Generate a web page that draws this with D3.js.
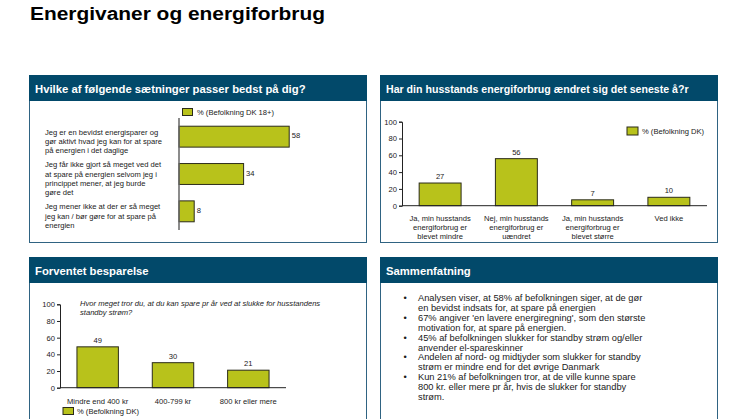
<!DOCTYPE html>
<html><head><meta charset="utf-8">
<script src="https://cdn.jsdelivr.net/npm/d3@7"></script>
<style>
html,body{margin:0;padding:0;background:#fff;}
svg{display:block;font-family:"Liberation Sans",Arial,sans-serif;}
</style></head>
<body>
<script>
// ---------- DATA ----------
const pageTitle = "Energivaner og energiforbrug";

const p1Title = "Hvilke af følgende sætninger passer bedst på dig?";
const p1Categories = [
  ["Jeg er en bevidst energisparer og", "gør aktivt hvad jeg kan for at spare", "på energien i det daglige"],
  ["Jeg får ikke gjort så meget ved det", "at spare på energien selvom jeg i", "princippet mener, at jeg burde", "gøre det"],
  ["Jeg mener ikke at der er så meget", "jeg kan / bør gøre for at spare på", "energien"]
];
const p1Values = [58, 34, 8];
const p1Legend = "% (Befolkning DK 18+)";

const p2Title = "Har din husstands energiforbrug ændret sig det seneste å?r";
const p2Categories = [
  ["Ja, min husstands", "energiforbrug er", "blevet mindre"],
  ["Nej, min husstands", "energiforbrug er", "uændret"],
  ["Ja, min husstands", "energiforbrug er", "blevet større"],
  ["Ved ikke"]
];
const p2Values = [27, 56, 7, 10];
const p2Legend = "% (Befolkning DK)";
const yTicks = [0, 20, 40, 60, 80, 100];

const p3Title = "Forventet besparelse";
const p3Question = ["Hvor meget tror du, at du kan spare pr år ved at slukke for husstandens", "standby strøm?"];
const p3Categories = ["Mindre end 400 kr", "400-799 kr", "800 kr eller mere"];
const p3Values = [49, 30, 21];
const p3Legend = "% (Befolkning DK)";

const p4Title = "Sammenfatning";
const p4Bullets = [
  ["Analysen viser, at 58% af befolkningen siger, at de gør", "en bevidst indsats for, at spare på energien"],
  ["67% angiver 'en lavere energiregning', som den største", "motivation for, at spare på energien."],
  ["45% af befolkningen slukker for standby strøm og/eller", "anvender el-spareskinner"],
  ["Andelen af nord- og midtjyder som slukker for standby", "strøm er mindre end for det øvrige Danmark"],
  ["Kun 21% af befolkningen tror, at de ville kunne spare", "800 kr. eller mere pr år, hvis de slukker for standby", "strøm."]
];

// ---------- STYLE ----------
const HEAD = "#02496a";
const BORDER = "#2f6382";
const BAR = "#b8c21b";
const BARSTROKE = "#2b2b1a";
const TXT = "#1a1a1a";
const FS = 7.6;

const W = 746, H = 419;
const svg = d3.select("body").append("svg").attr("width", W).attr("height", H);

svg.append("text").attr("x", 30).attr("y", 20)
  .attr("font-size", 18).attr("font-weight", "bold").attr("fill", "#000")
  .attr("textLength", 295).attr("lengthAdjust", "spacingAndGlyphs")
  .text(pageTitle);

function panel(x, y, w, h, title, fs) {
  const g = svg.append("g");
  g.append("rect").attr("x", x + 0.5).attr("y", y + 0.5).attr("width", w).attr("height", h)
    .attr("fill", "#fff").attr("stroke", BORDER).attr("stroke-width", 1);
  g.append("rect").attr("x", x).attr("y", y).attr("width", w + 1).attr("height", 26).attr("fill", HEAD);
  g.append("text").attr("x", x + 6).attr("y", y + 18)
    .attr("font-size", fs).attr("font-weight", "bold").attr("fill", "#fff").text(title);
  return g;
}

// ---------- PANEL 1 ----------
{
  const g = panel(29, 75, 337, 167, p1Title, 11.3);
  const y = d3.scaleBand().domain(d3.range(p1Values.length)).range([118, 230])
    .paddingInner(0.44).paddingOuter(0.22);
  const x = d3.scaleLinear().domain([0, 100]).range([179, 369]);
  g.selectAll("rect.bar").data(p1Values).join("rect").attr("class", "bar")
    .attr("x", x(0)).attr("y", (d, i) => y(i))
    .attr("width", d => x(d) - x(0)).attr("height", y.bandwidth())
    .attr("fill", BAR).attr("stroke", BARSTROKE).attr("stroke-width", 1);
  g.append("line").attr("x1", x(0)).attr("x2", x(0)).attr("y1", 118).attr("y2", 230)
    .attr("stroke", "#666").attr("stroke-width", 1.5);
  g.selectAll("text.val").data(p1Values).join("text").attr("class", "val")
    .attr("x", d => x(d) + 2.5).attr("y", (d, i) => y(i) + y.bandwidth() / 2 + 1.5)
    .attr("font-size", FS).attr("fill", TXT).text(d => d);
  p1Categories.forEach((lines, i) => {
    const c = y(i) + y.bandwidth() / 2 + 4.7;
    const lh = 9.3;
    const t = g.append("text").attr("font-size", FS).attr("fill", TXT);
    lines.forEach((l, j) => {
      t.append("tspan").attr("x", 45).attr("y", c - (lines.length - 1) / 2 * lh + j * lh + 2.7).text(l);
    });
  });
  g.append("rect").attr("x", 182.5).attr("y", 108.5).attr("width", 10).attr("height", 7)
    .attr("fill", BAR).attr("stroke", BARSTROKE);
  g.append("text").attr("x", 197).attr("y", 115).attr("font-size", FS).attr("fill", TXT).text(p1Legend);
}

// ---------- vertical bar panel helper ----------
function vbars(g, cats, vals, x0, x1, y0, y1) {
  const x = d3.scaleBand().domain(d3.range(vals.length)).range([x0, x1])
    .paddingInner(0.45).paddingOuter(0.225);
  const y = d3.scaleLinear().domain([0, 100]).range([y0, y1]);
  g.selectAll("rect.bar").data(vals).join("rect").attr("class", "bar")
    .attr("x", (d, i) => x(i)).attr("y", d => y(d))
    .attr("width", x.bandwidth()).attr("height", d => y(0) - y(d))
    .attr("fill", BAR).attr("stroke", BARSTROKE).attr("stroke-width", 1);
  const ax = g.append("g").attr("transform", `translate(${x0},0)`)
    .call(d3.axisLeft(y).tickValues(yTicks).tickSize(3).tickPadding(2));
  ax.select(".domain").attr("stroke", "#222");
  ax.selectAll(".tick line").attr("stroke", "#222");
  ax.selectAll("text").attr("font-size", FS).attr("fill", TXT)
    .attr("font-family", '"Liberation Sans",Arial,sans-serif');
  g.append("line").attr("x1", x0).attr("x2", x1).attr("y1", y(0)).attr("y2", y(0))
    .attr("stroke", "#222").attr("stroke-width", 1);
  g.selectAll("text.val").data(vals).join("text").attr("class", "val")
    .attr("x", (d, i) => x(i) + x.bandwidth() / 2).attr("y", d => y(d) - 4)
    .attr("text-anchor", "middle").attr("font-size", FS).attr("fill", TXT).text(d => d);
  return { x, y };
}

// ---------- PANEL 2 ----------
{
  const g = panel(380, 75, 337, 167, p2Title, 10.6);
  const { x } = vbars(g, p2Categories, p2Values, 402, 707, 205.7, 121.7);
  p2Categories.forEach((lines, i) => {
    const t = g.append("text").attr("font-size", FS).attr("fill", TXT).attr("text-anchor", "middle");
    lines.forEach((l, j) => {
      t.append("tspan").attr("x", x(i) + x.bandwidth() / 2).attr("y", 221 + j * 9).text(l);
    });
  });
  g.append("rect").attr("x", 627).attr("y", 127).attr("width", 11).attr("height", 8)
    .attr("fill", BAR).attr("stroke", BARSTROKE);
  g.append("text").attr("x", 642).attr("y", 133.8).attr("font-size", FS).attr("fill", TXT).text(p2Legend);
}

// ---------- PANEL 3 ----------
{
  const g = panel(29, 257, 337, 180, p3Title, 11.3);
  const { x } = vbars(g, p3Categories, p3Values, 60, 286, 387.7, 304.3);
  g.selectAll("text.cat").data(p3Categories).join("text").attr("class", "cat")
    .attr("x", (d, i) => x(i) + x.bandwidth() / 2).attr("y", 403.5)
    .attr("text-anchor", "middle").attr("font-size", FS).attr("fill", TXT).text(d => d);
  const q = g.append("text").attr("font-size", FS).attr("font-style", "italic").attr("fill", TXT);
  p3Question.forEach((l, j) => q.append("tspan").attr("x", 80).attr("y", 305.5 + j * 9).text(l));
  g.append("rect").attr("x", 63).attr("y", 407.5).attr("width", 10.5).attr("height", 7)
    .attr("fill", BAR).attr("stroke", BARSTROKE);
  g.append("text").attr("x", 77).attr("y", 414.3).attr("font-size", FS).attr("fill", TXT).text(p3Legend);
}

// ---------- PANEL 4 ----------
{
  const g = panel(380, 257, 337, 180, p4Title, 11.3);
  let line = 0;
  const lh = 9.9;
  const fs = 9.3;
  p4Bullets.forEach(b => {
    g.append("text").attr("x", 403.5).attr("y", 301 + line * lh).attr("font-size", fs).attr("fill", TXT).text("•");
    b.forEach(l => {
      g.append("text").attr("x", 418).attr("y", 301 + line * lh).attr("font-size", fs).attr("fill", TXT).text(l);
      line++;
    });
  });
}
</script>
</body></html>
